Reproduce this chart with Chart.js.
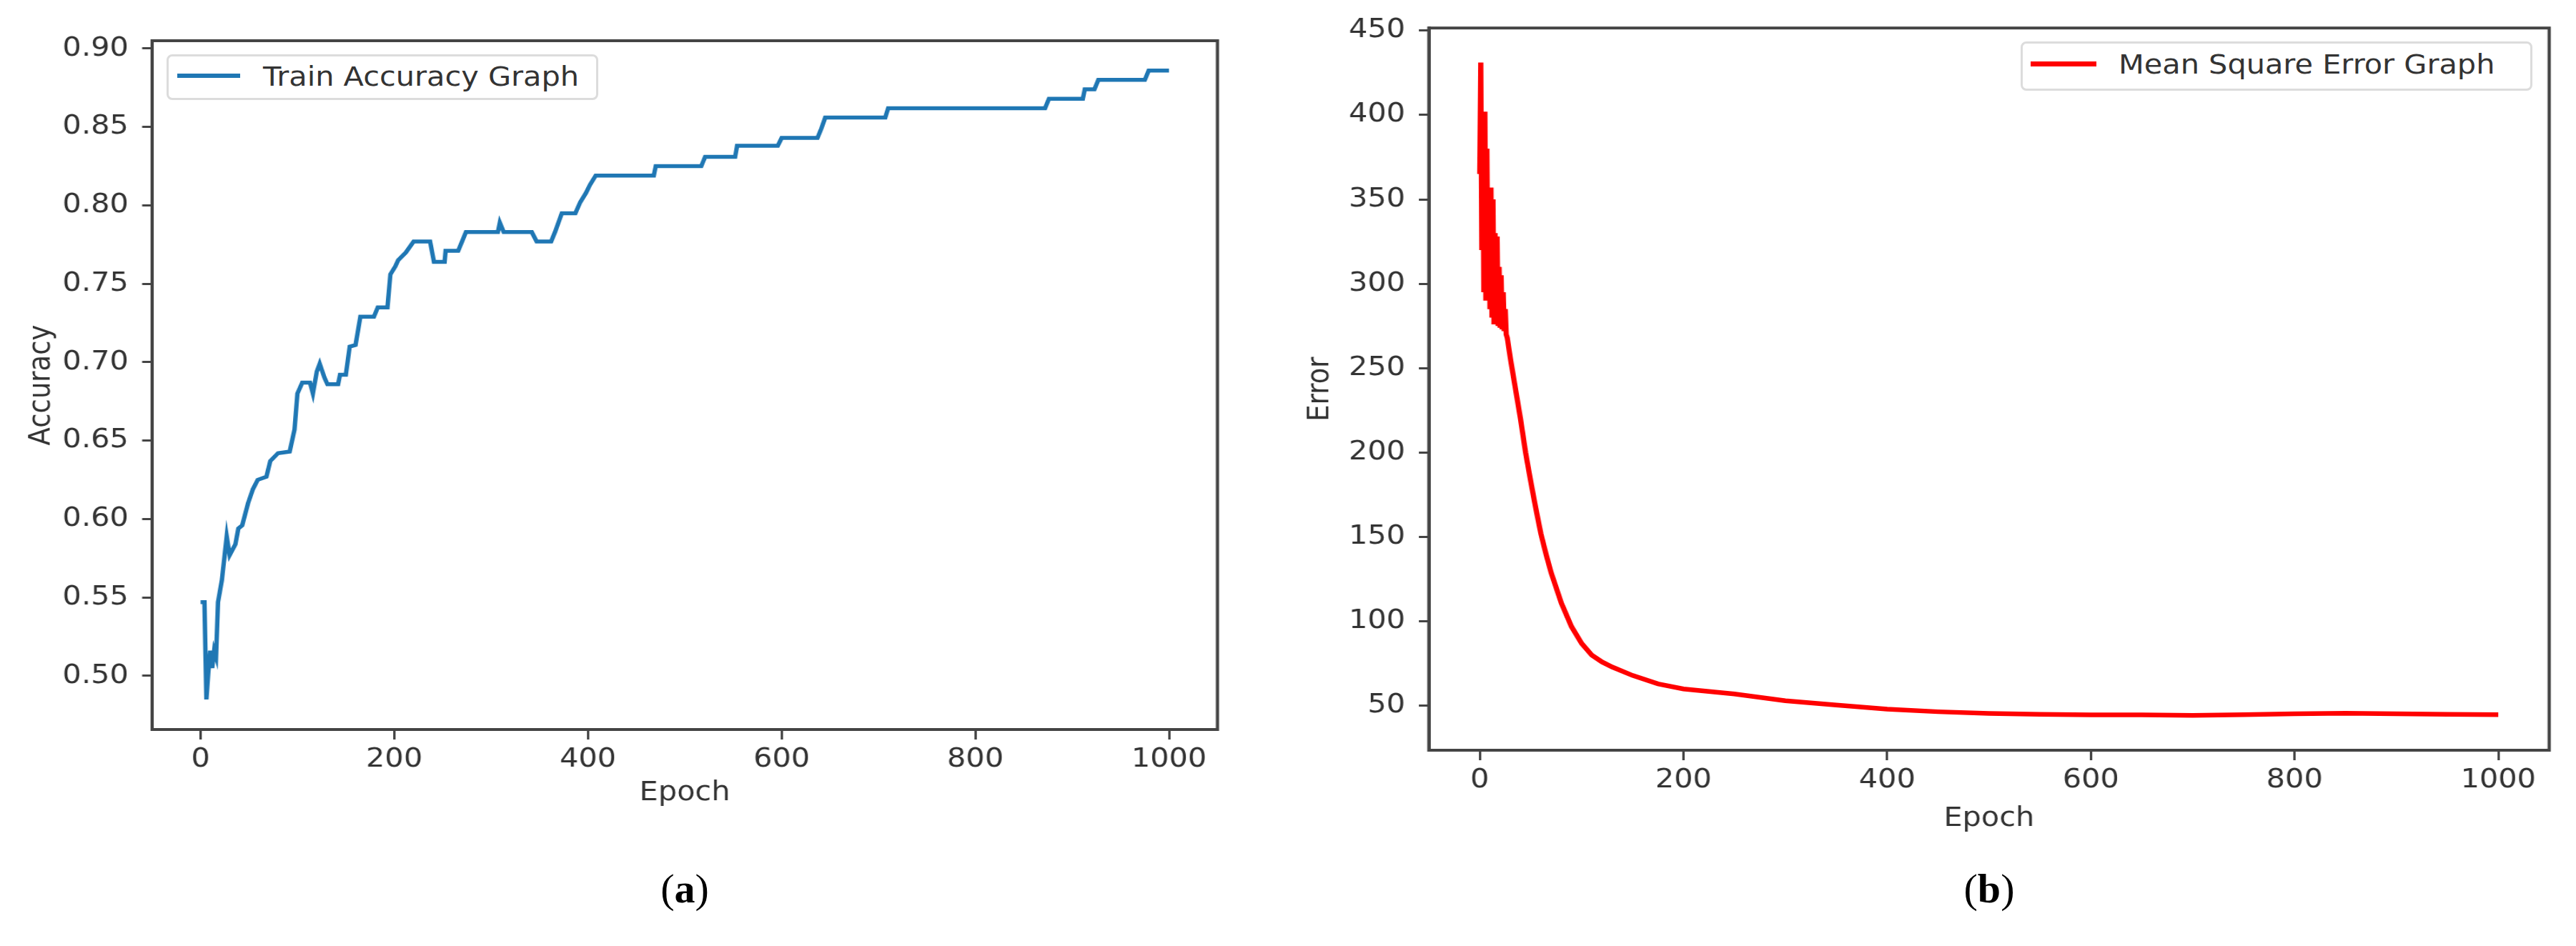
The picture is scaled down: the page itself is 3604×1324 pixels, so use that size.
<!DOCTYPE html>
<html>
<head>
<meta charset="utf-8">
<script src="https://cdn.jsdelivr.net/npm/chart.js@4.4.0/dist/chart.umd.min.js"></script>
<style>
  body { margin: 0; background: #fff; width: 3604px; height: 1324px; position: relative; overflow: hidden; }
  canvas { position: absolute; top: 0; }
  .legend { position: absolute; background: #fff; border: 3px solid #dcdcdc; border-radius: 8px; box-sizing: border-box;
            font-family: 'DejaVu Sans'; font-size: 37px; color: #333; }
  .legend .swatch { position: absolute; }
  .legend .label { position: absolute; white-space: nowrap; line-height: 1; transform: scaleX(1.12); transform-origin: left center; }
  .caption { position: absolute; font-family: 'Liberation Serif'; font-size: 58px; color: #000; transform: translate(-50%, -50%); }
</style>
</head>
<body>
<!-- the reference picture is stretched sideways by about 1.12, so the canvases are too (inline style so Chart.js keeps it) -->
<canvas id="chartA" width="1589" height="1137" style="left:0; width:1779.7px; height:1137px;"></canvas>
<canvas id="chartB" width="1629" height="1173" style="left:1780px; width:1824.5px; height:1173px;"></canvas>

<div class="legend" style="left:233px; top:76px; width:604px; height:64px;">
  <div class="swatch" style="left:12px; top:24px; width:88px; height:6px; background:#1f77b4;"></div>
  <div class="label" style="left:132px; top:10px;">Train Accuracy Graph</div>
</div>
<div class="legend" style="left:2827px; top:58px; width:716px; height:69px;">
  <div class="swatch" style="left:11px; top:25px; width:92px; height:7px; background:#ff0000;"></div>
  <div class="label" style="left:134px; top:11px;">Mean Square Error Graph</div>
</div>

<div class="caption" style="left:958px; top:1243px;">(<b>a</b>)</div>
<div class="caption" style="left:2783px; top:1243px;">(<b>b</b>)</div>

<script>
Chart.defaults.font.family = 'DejaVu Sans';
Chart.defaults.font.size = 37;
Chart.defaults.color = '#333';

// Train accuracy (a) at the step changes
const accEpochs = [0, 4, 6, 8, 10, 12, 14, 16, 18, 22, 27, 30, 36, 39, 43, 49, 54, 59, 68, 72, 80, 92, 97, 100,
  105, 113, 116, 120, 123, 128, 131, 142, 144, 150, 154, 160, 165, 179, 183, 193, 196, 201, 204, 212, 220, 237,
  241, 252, 253, 266, 270, 274, 307, 309, 313, 342, 347, 362, 366, 373, 387, 392, 398, 402, 408, 468, 470, 517,
  521, 552, 554, 596, 600, 637, 641, 645, 707, 710, 872, 876, 911, 913, 923, 927, 975, 979, 1000];
const accValues = [0.547, 0.547, 0.485, 0.502, 0.516, 0.505, 0.516, 0.512, 0.547, 0.561, 0.589, 0.577, 0.584,
  0.594, 0.596, 0.610, 0.619, 0.625, 0.627, 0.637, 0.642, 0.643, 0.657, 0.680, 0.687, 0.687, 0.680, 0.694, 0.699,
  0.690, 0.686, 0.686, 0.692, 0.692, 0.710, 0.711, 0.729, 0.729, 0.735, 0.735, 0.756, 0.761, 0.765, 0.770, 0.777,
  0.777, 0.764, 0.764, 0.771, 0.771, 0.777, 0.783, 0.783, 0.789, 0.783, 0.783, 0.777, 0.777, 0.783, 0.795, 0.795,
  0.802, 0.808, 0.813, 0.819, 0.819, 0.825, 0.825, 0.831, 0.831, 0.838, 0.838, 0.843, 0.843, 0.849, 0.856, 0.856,
  0.862, 0.862, 0.868, 0.868, 0.874, 0.874, 0.880, 0.880, 0.886, 0.886];

// Mean square error (b)
const mseEpochs = [0, 1, 2, 3, 4, 5, 6, 7, 8, 9, 10, 11, 12, 13, 14, 15, 16, 17, 18, 19, 20, 21, 22, 23, 24, 25,
  26, 27, 30, 35, 40, 45, 50, 55, 60, 65, 70, 80, 90, 100, 110, 120, 130, 150, 175, 200, 250, 300, 350, 400, 450,
  500, 550, 600, 650, 700, 750, 800, 850, 900, 950, 1000];
const mseValues = [365, 431, 320, 400, 295, 402, 290, 380, 300, 357, 285, 357, 280, 350, 276, 330, 276, 328, 275,
  310, 274, 305, 273, 295, 272, 285, 270, 268, 256, 238, 220, 200, 183, 167, 152, 140, 129, 111, 97, 87, 80, 76,
  73, 68, 63, 60, 57, 53, 50.5, 48, 46.5, 45.5, 45, 44.7, 44.6, 44.3, 44.8, 45.3, 45.6, 45.3, 45, 44.8];

// Tick labels
const epochTicks = [0, 200, 400, 600, 800, 1000];
const accTicks = [0.50, 0.55, 0.60, 0.65, 0.70, 0.75, 0.80, 0.85, 0.90];
const mseTicks = [50, 100, 150, 200, 250, 300, 350, 400, 450];

const axisColor = '#444';

// box around the plot area, like matplotlib spines
const frame = {
  id: 'frame',
  afterDraw(chart) {
    const {ctx, chartArea: a} = chart;
    ctx.save();
    ctx.strokeStyle = axisColor;
    ctx.lineWidth = 4;
    ctx.strokeRect(a.left, a.top, a.right - a.left, a.bottom - a.top);
    ctx.restore();
  }
};

function axis(opts) {
  return {
    type: 'linear',
    min: opts.min,
    max: opts.max,
    afterBuildTicks: s => { s.ticks = opts.ticks.map(v => ({value: v})); },
    afterFit: s => {
      if (opts.width) s.width = opts.width;
      if (opts.height) s.height = opts.height;
    },
    grid: { drawOnChartArea: false, drawTicks: true, tickLength: opts.tick, tickWidth: 3, tickColor: axisColor },
    border: { display: true, color: axisColor, width: 4 },
    ticks: { padding: opts.pad, callback: opts.fmt },
    title: { display: true, text: opts.title, padding: opts.titlePad, color: '#333' }
  };
}

function makeChart(id, xs, ys, color, width, xOpts, yOpts, pad) {
  const ctx = document.getElementById(id).getContext('2d');
  return new Chart(ctx, {
    type: 'line',
    data: {
      datasets: [{
        data: xs.map((x, i) => ({x: x, y: ys[i]})),
        borderColor: color,
        borderWidth: width,
        pointRadius: 0,
        tension: 0,
        fill: false
      }]
    },
    options: {
      responsive: false,
      animation: false,
      layout: { padding: pad },
      plugins: { legend: { display: false }, tooltip: { enabled: false } },
      scales: { x: axis(xOpts), y: axis(yOpts) }
    },
    plugins: [frame]
  });
}

try {
  makeChart('chartA', accEpochs, accValues, '#1f77b4', 5.5,
    { min: -50, max: 1050, ticks: epochTicks, height: 116, tick: 14, pad: 6, title: 'Epoch',
      titlePad: {top: 4, bottom: 4}, fmt: v => String(v) },
    { min: 0.4658, max: 0.905, ticks: accTicks, width: 190, tick: 12.5, pad: 17, title: 'Accuracy',
      titlePad: {top: 30, bottom: 0}, fmt: v => v.toFixed(2) },
    { top: 57, right: 68.5, left: 0, bottom: 0 });
} catch (error) {
  console.log(error);
}

try {
  makeChart('chartB', mseEpochs, mseValues, '#ff0000', 6.5,
    { min: -50, max: 1050, ticks: epochTicks, height: 123, tick: 14, pad: 6, title: 'Epoch',
      titlePad: {top: 4, bottom: 4}, fmt: v => String(v) },
    { min: 23.7, max: 451.5, ticks: mseTicks, width: 195.5, tick: 12.5, pad: 17, title: 'Error',
      titlePad: {top: 38, bottom: 0}, fmt: v => String(v) },
    { top: 39, right: 34.4, left: 0, bottom: 0 });
} catch (error) {
  console.log(error);
}
</script>
</body>
</html>
